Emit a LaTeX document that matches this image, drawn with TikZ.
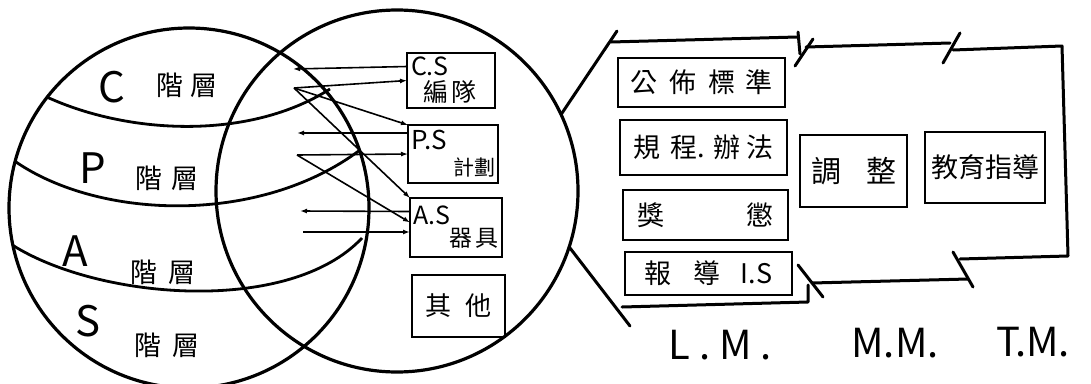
\documentclass[tikz,border=0pt]{standalone}
\usepackage{fontspec}
\setmainfont{Noto Sans CJK TC}
\usetikzlibrary{arrows.meta}
\begin{document}
\begin{tikzpicture}[x=1pt,y=-1pt,
  ring/.style={draw, circle, minimum size=#1, inner sep=0pt, outer sep=0pt, line width=3.2pt},
  band/.style={line width=2.8pt},
  arr/.style={line width=1.6pt, -{Latex[length=7pt,width=5pt]}},
  lbox/.style={draw, line width=2.2pt, inner sep=0pt, outer sep=0pt},
  bline/.style={line width=3pt, line cap=round, line join=round},
  brk/.style={line width=3pt, line cap=round},
  letter/.style={font=\fontsize{42}{42}\selectfont},
  layer/.style={font=\fontsize{27}{27}\selectfont},
  boxtxt/.style={font=\fontsize{27}{27}\selectfont},
  mm/.style={font=\fontsize{40}{40}\selectfont},
]
\clip (0,0) rectangle (1091,383);
\fill[white] (0,0) rectangle (1091,383);

% circles
\node[ring=360pt] (lc) at (189,208) {};
\node[ring=362pt] (rc) at (397,191) {};

% bands
\coordinate (e1) at (330,89);
\coordinate (e2) at (360,150);
\coordinate (e3) at (362,238);
\draw[band] (lc.142) .. controls (130,135) and (250,140) .. (e1);
\draw[band] (lc.165) .. controls (100,220) and (260,225) .. (e2);
\draw[band] (lc.192) .. controls (100,300) and (290,315) .. (e3);

% layer labels
\node[letter] (lC) at (112,87) {C};
\node[layer] (hC) at (187,85) {階\hspace{8pt}層};
\node[letter] (lP) at (93,168) {P};
\node[layer] (hP) at (167,178) {階\hspace{10pt}層};
\node[letter] (lA) at (75,251) {A};
\node[layer] (hA) at (163,272) {階\hspace{12pt}層};
\node[letter] (lS) at (88,321) {S};
\node[layer] (hS) at (167,345) {階\hspace{12pt}層};

% boxes in right circle
\node[lbox, minimum width=88pt, minimum height=55pt, text width=80pt, align=left,
  font=\fontsize{25}{26}\selectfont] (cs) at (451,80.5)
  {C.S\\\hspace*{12pt}編\hspace{3pt}隊};
\node[lbox, minimum width=90pt, minimum height=58pt, text width=84pt, align=left,
  font=\fontsize{26}{26}\selectfont] (ps) at (453,154)
  {P.S\\\hspace*{\fill}{\fontsize{21}{21}\selectfont 計劃}};
\node[lbox, minimum width=92pt, minimum height=59pt, text width=86pt, align=left,
  font=\fontsize{25}{22}\selectfont] (as) at (456,227.5)
  {A.S\\\hspace*{\fill}{\fontsize{23}{23}\selectfont 器\hspace{4pt}具}};
\node[lbox, minimum width=93pt, minimum height=62pt, font=\fontsize{26}{26}\selectfont] (other) at (458.5,306)
  {其\hspace{14pt}他};

% arrows
\coordinate (cL) at (293,69);
\coordinate (cR) at (294,88);
\coordinate (pL) at (297,133);
\coordinate (pR) at (297,155);
\coordinate (aL) at (300,211);
\coordinate (aR) at (303,232);
\draw[arr] ([yshift=14pt]cs.west) -- (cL);
\draw[arr] (cR) -- (cs.west);
\draw[arr] (cR) -- (ps.north west);
\draw[arr] (cR) -- (as.north west);
\draw[arr] ([yshift=21pt]ps.west) -- (pL);
\draw[arr] (pR) -- (ps.west);
\draw[arr] (pR) -- ([yshift=5pt]as.west);
\draw[arr] ([yshift=16pt]as.west) -- (aL);
\draw[arr] (aR) -- ([yshift=-4.5pt]as.west);

% right boxes
\node[lbox, minimum width=167pt, minimum height=49pt, boxtxt] (b1) at (701.5,82.5)
  {公\hspace{12pt}佈\hspace{12pt}標\hspace{10pt}準};
\node[lbox, minimum width=167pt, minimum height=55pt, boxtxt] (b2) at (703.5,147.5)
  {規\hspace{10pt}程.\hspace{8pt}辦\hspace{6pt}法};
\node[lbox, minimum width=165pt, minimum height=50pt, text width=136pt, align=left, boxtxt] (b3) at (705.5,215)
  {獎\hfill 懲};
\node[lbox, minimum width=167pt, minimum height=43pt, boxtxt] (b4) at (708.5,273.5)
  {報\hspace{22pt}導\hspace{20pt}I.S};
\node[lbox, minimum width=107pt, minimum height=72pt, font=\fontsize{30}{30}\selectfont] (adj) at (853.5,171)
  {調\hspace{25pt}整};
\node[lbox, minimum width=120pt, minimum height=71pt, font=\fontsize{27}{27}\selectfont] (edu) at (985,167.5)
  {教育指導};

% bracket / loop
\coordinate (t0) at (617,31);
\coordinate (t1) at (611,42);
\coordinate (t2) at (797,37);
\coordinate (bt) at (630,326);
\draw[bline] (rc.25) -- (t0);
\draw[bline] (t1) -- (t2);
\draw[brk] (798,32) -- (800,54);
\draw[brk] (795,66) -- (813,39);
\draw[bline] (806,47) -- (950,43);
\draw[brk] (943,63) -- (960,33);
\draw[bline] (953,50) -- (1062,46) -- (1068,256) -- (960,259);
\draw[brk] (953,252) -- (973,287);
\draw[bline] (968,279) -- (812,283);
\draw[brk] (798,265) -- (823,297);
\draw[bline] (808,285) -- (808,302) -- (622,307);
\draw[bline] (rc.-18) -- (bt);

% bottom labels
\node[mm] (lm) at (720,345) {L . M .};
\node[mm] (mmm) at (895,343) {M.M.};
\node[mm] (tm) at (1033,342) {T.M.};
\end{tikzpicture}
\end{document}
